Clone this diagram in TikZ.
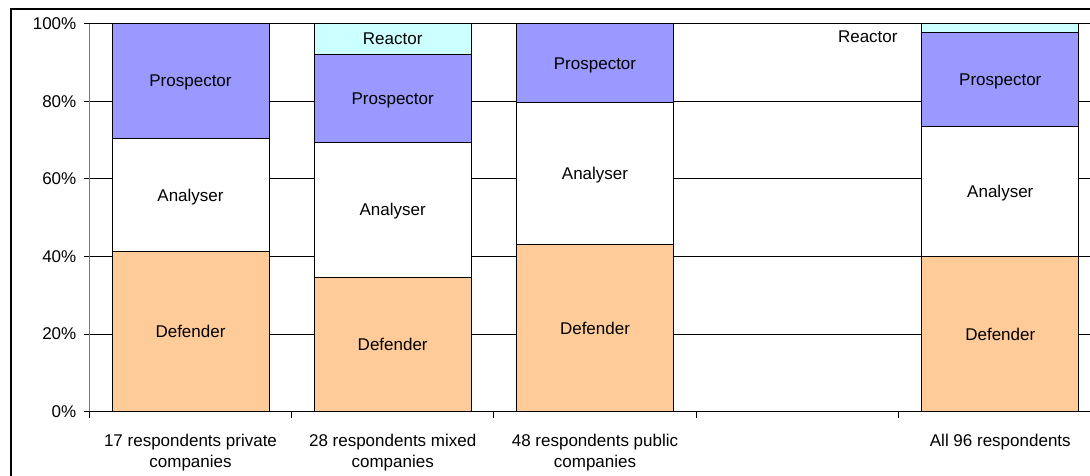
\documentclass[tikz,border=0pt]{standalone}
\usepackage{fontspec}
\setmainfont{Liberation Sans}
\definecolor{defcol}{HTML}{FFCC99}
\definecolor{procol}{HTML}{9999FF}
\definecolor{reacol}{HTML}{CCFFFF}
\definecolor{axisgray}{HTML}{7A7A7A}
\begin{document}
\begin{tikzpicture}[x=1pt,y=-1pt,
  lbl/.style={font=\fontsize{17}{21}\selectfont, inner sep=0pt},
  seg/.style={lbl, draw=black, line width=0.9pt, minimum width=157pt,
    text height=12pt, text depth=0pt},
  defender/.style={seg, fill=defcol},
  analyser/.style={seg, fill=white},
  prospector/.style={seg, fill=procol},
  reactor/.style={seg, fill=reacol},
  grid/.style={black, line width=0.9pt},
  tick/.style={black, line width=0.9pt},
  ylab/.style={lbl, anchor=east},
  xlab/.style={lbl, anchor=north, align=center}
]
\useasboundingbox (0,0) rectangle (1090,475);
\clip (0,0) rectangle (1090,475);

% chart frame
\draw[black, line width=1.2pt] (11,9) rectangle (1112,490);

% horizontal gridlines (20% steps) and value axis labels
\foreach \p/\y in {20/334.1, 40/256.5, 60/178.8, 80/101.2, 100/23.5} {
  \draw[grid] (89,\y) -- (1101,\y);
}
\foreach \p/\y in {0/411.8, 20/334.1, 40/256.5, 60/178.8, 80/101.2, 100/23.5} {
  \node[ylab] (y\p) at (76.5,\y) {\p\%};
  \draw[tick] (83.5,\y) -- (89,\y);
}

% stacked bars: 17 respondents private companies
\node[defender,   minimum height=160.1pt] (b1d) at (190.5,331.75) {Defender};
\node[analyser,   minimum height=113.4pt] (b1a) at (190.5,195.0) {Analyser};
\node[prospector, minimum height=114.8pt] (b1p) at (190.5,80.9) {Prospector};

% 28 respondents mixed companies
\node[defender,   minimum height=134.5pt] (b2d) at (392.7,344.55) {Defender};
\node[analyser,   minimum height=134.8pt] (b2a) at (392.7,209.9) {Analyser};
\node[prospector, minimum height=88.5pt]  (b2p) at (392.7,98.25) {Prospector};
\node[reactor,    minimum height=30.5pt]  (b2r) at (392.7,38.75) {Reactor};

% 48 respondents public companies
\node[defender,   minimum height=167.5pt] (b3d) at (595,328.05) {Defender};
\node[analyser,   minimum height=141.6pt] (b3a) at (595,173.5) {Analyser};
\node[prospector, minimum height=79.2pt]  (b3p) at (595,63.1) {Prospector};

% all 96 respondents
\node[defender,   minimum height=155.1pt] (b4d) at (1000.3,334.25) {Defender};
\node[analyser,   minimum height=130pt]   (b4a) at (1000.3,191.7) {Analyser};
\node[prospector, minimum height=94.4pt]  (b4p) at (1000.3,79.5) {Prospector};
\node[reactor,    minimum height=8.8pt, text height=0pt] (b4r) at (1000.3,27.9) {};
\node[lbl, text height=12pt, text depth=0pt] (b4rl) at (867.8,36.7) {Reactor};

% axes
\draw[axisgray, line width=0.9pt] (89,23.5) -- (89,411.8);
\draw[black, line width=0.9pt] (89,411.8) -- (1101,411.8);
\foreach \x in {89, 291.3, 493.6, 696.7, 898.3} {
  \draw[tick] (\x,411.8) -- (\x,417.5);
}

% category labels
\node[xlab] (c1) at (190.5,434.3) {17 respondents private\\companies};
\node[xlab] (c2) at (392.7,434.3) {28 respondents mixed\\companies};
\node[xlab] (c3) at (595,434.3) {48 respondents public\\companies};
\node[xlab] (c4) at (1000.3,434.3) {All 96 respondents};
\end{tikzpicture}
\end{document}
